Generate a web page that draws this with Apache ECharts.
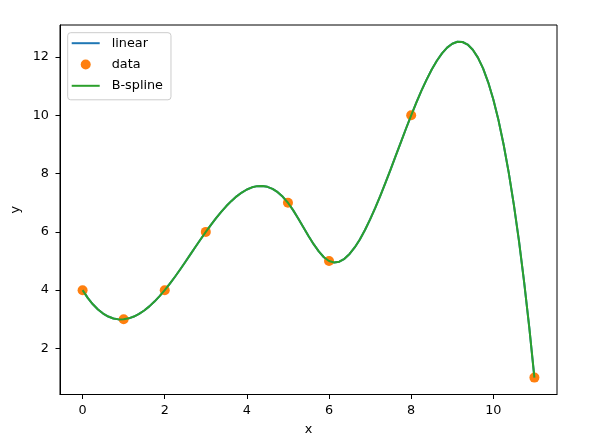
<!DOCTYPE html>
<html>
<head>
<meta charset="utf-8">
<script src="https://cdn.jsdelivr.net/npm/echarts@6/dist/echarts.min.js"></script>
<style>html,body{margin:0;padding:0;background:#fff}#c{width:589px;height:443px}</style>
</head>
<body>
<div id="c"></div>
<script>
// data points
const dataX = [0, 1, 2, 3, 5, 6, 8, 11];
const dataY = [4, 3, 4, 6, 7, 5, 10, 1];
// curve values
const curveX = [0, 0.125, 0.25, 0.375, 0.5, 0.625, 0.75, 0.875, 1, 1.125, 1.25, 1.375, 1.5, 1.625, 1.75, 1.875,
  2, 2.125, 2.25, 2.375, 2.5, 2.625, 2.75, 2.875, 3, 3.125, 3.25, 3.375, 3.5, 3.625, 3.75, 3.875,
  4, 4.125, 4.25, 4.375, 4.5, 4.625, 4.75, 4.875, 5, 5.125, 5.25, 5.375, 5.5, 5.625, 5.75, 5.875,
  6, 6.125, 6.25, 6.375, 6.5, 6.625, 6.75, 6.875, 7, 7.125, 7.25, 7.375, 7.5, 7.625, 7.75, 7.875,
  8, 8.125, 8.25, 8.375, 8.5, 8.625, 8.75, 8.875, 9, 9.125, 9.25, 9.375, 9.5, 9.625, 9.75, 9.875,
  10, 10.125, 10.25, 10.375, 10.5, 10.625, 10.75, 10.875, 11];
const curveY = [4, 3.737, 3.516, 3.337, 3.197, 3.095, 3.030, 2.998, 3, 3.033, 3.095, 3.186, 3.303, 3.444, 3.609, 3.794,
  4, 4.223, 4.461, 4.710, 4.967, 5.228, 5.489, 5.748, 6, 6.243, 6.473, 6.688, 6.886, 7.064, 7.220, 7.351,
  7.455, 7.529, 7.570, 7.577, 7.546, 7.476, 7.363, 7.205, 7, 6.748, 6.463, 6.162, 5.862, 5.578, 5.329, 5.131,
  5, 4.950, 4.978, 5.077, 5.242, 5.466, 5.742, 6.065, 6.428, 6.824, 7.247, 7.691, 8.149, 8.616, 9.084, 9.548,
  10, 10.435, 10.846, 11.227, 11.572, 11.874, 12.126, 12.323, 12.458, 12.525, 12.517, 12.428, 12.252, 11.981, 11.611, 11.134,
  10.544, 9.836, 9.001, 8.035, 6.930, 5.680, 4.280, 2.722, 1];
const linearY = curveY.slice();
const xTicks = [0, 2, 4, 6, 8, 10];
const yTicks = [2, 4, 6, 8, 10, 12];

const FONT = 'DejaVu Sans';
const chart = echarts.init(document.getElementById('c'), null, {renderer: 'canvas'});
const pairs = (xs, ys) => xs.map((x, i) => [x, ys[i]]);
const LINE_ICON = 'path://M0,0 L28,0 L28,2 L0,2 Z';

chart.setOption({
  animation: false,
  backgroundColor: '#ffffff',
  textStyle: {fontFamily: FONT},
  grid: {left: 60, right: 32, top: 25, bottom: 48.5, show: true, borderColor: '#000', borderWidth: 1, backgroundColor: '#fff'},
  legend: {
    orient: 'vertical', left: 67.7, top: 32.7,
    padding: [3, 8, 6.5, 4],
    itemWidth: 28, itemHeight: 10, itemGap: 6.3,
    borderColor: '#cccccc', borderWidth: 1, borderRadius: 3,
    backgroundColor: 'rgba(255,255,255,0.8)',
    textStyle: {fontFamily: FONT, fontSize: 12.8, color: '#000', lineHeight: 15, padding: [0, 0, 0, 7]},
    data: [
      {name: 'linear', icon: LINE_ICON},
      {name: 'data', icon: 'circle'},
      {name: 'B-spline', icon: LINE_ICON}
    ]
  },
  xAxis: {
    type: 'value', min: -0.55, max: 11.55,
    name: 'x', nameLocation: 'middle', nameGap: 28.5,
    nameTextStyle: {fontFamily: FONT, fontSize: 12.8, color: '#000'},
    axisLine: {show: true, onZero: false, lineStyle: {color: '#000', width: 1}},
    axisTick: {show: true, inside: false, length: 4.5, lineStyle: {color: '#000'}, customValues: xTicks},
    axisLabel: {fontFamily: FONT, fontSize: 12.8, color: '#000', margin: 10, customValues: xTicks},
    splitLine: {show: false}
  },
  yAxis: {
    type: 'value', min: 0.42, max: 13.1,
    name: 'y', nameLocation: 'middle', nameGap: 33, nameRotate: 90,
    nameTextStyle: {fontFamily: FONT, fontSize: 12.8, color: '#000'},
    axisLine: {show: true, onZero: false, lineStyle: {color: '#000', width: 1}},
    axisTick: {show: true, inside: false, length: 4.5, lineStyle: {color: '#000'}, customValues: yTicks},
    axisLabel: {fontFamily: FONT, fontSize: 12.8, color: '#000', margin: 11, customValues: yTicks},
    splitLine: {show: false}
  },
  series: [
    {name: 'linear', type: 'line', data: pairs(curveX, linearY), symbol: 'none', smooth: false,
     lineStyle: {color: '#1f77b4', width: 2, join: 'round'}, itemStyle: {color: '#1f77b4'}, z: 2},
    {name: 'data', type: 'scatter', data: pairs(dataX, dataY), symbol: 'circle', symbolSize: 10,
     itemStyle: {color: '#ff7f0e', opacity: 1}, z: 3},
    {name: 'B-spline', type: 'line', data: pairs(curveX, curveY), symbol: 'none', smooth: false,
     lineStyle: {color: '#2ca02c', width: 2, join: 'round'}, itemStyle: {color: '#2ca02c'}, z: 4}
  ]
});
</script>
</body>
</html>
